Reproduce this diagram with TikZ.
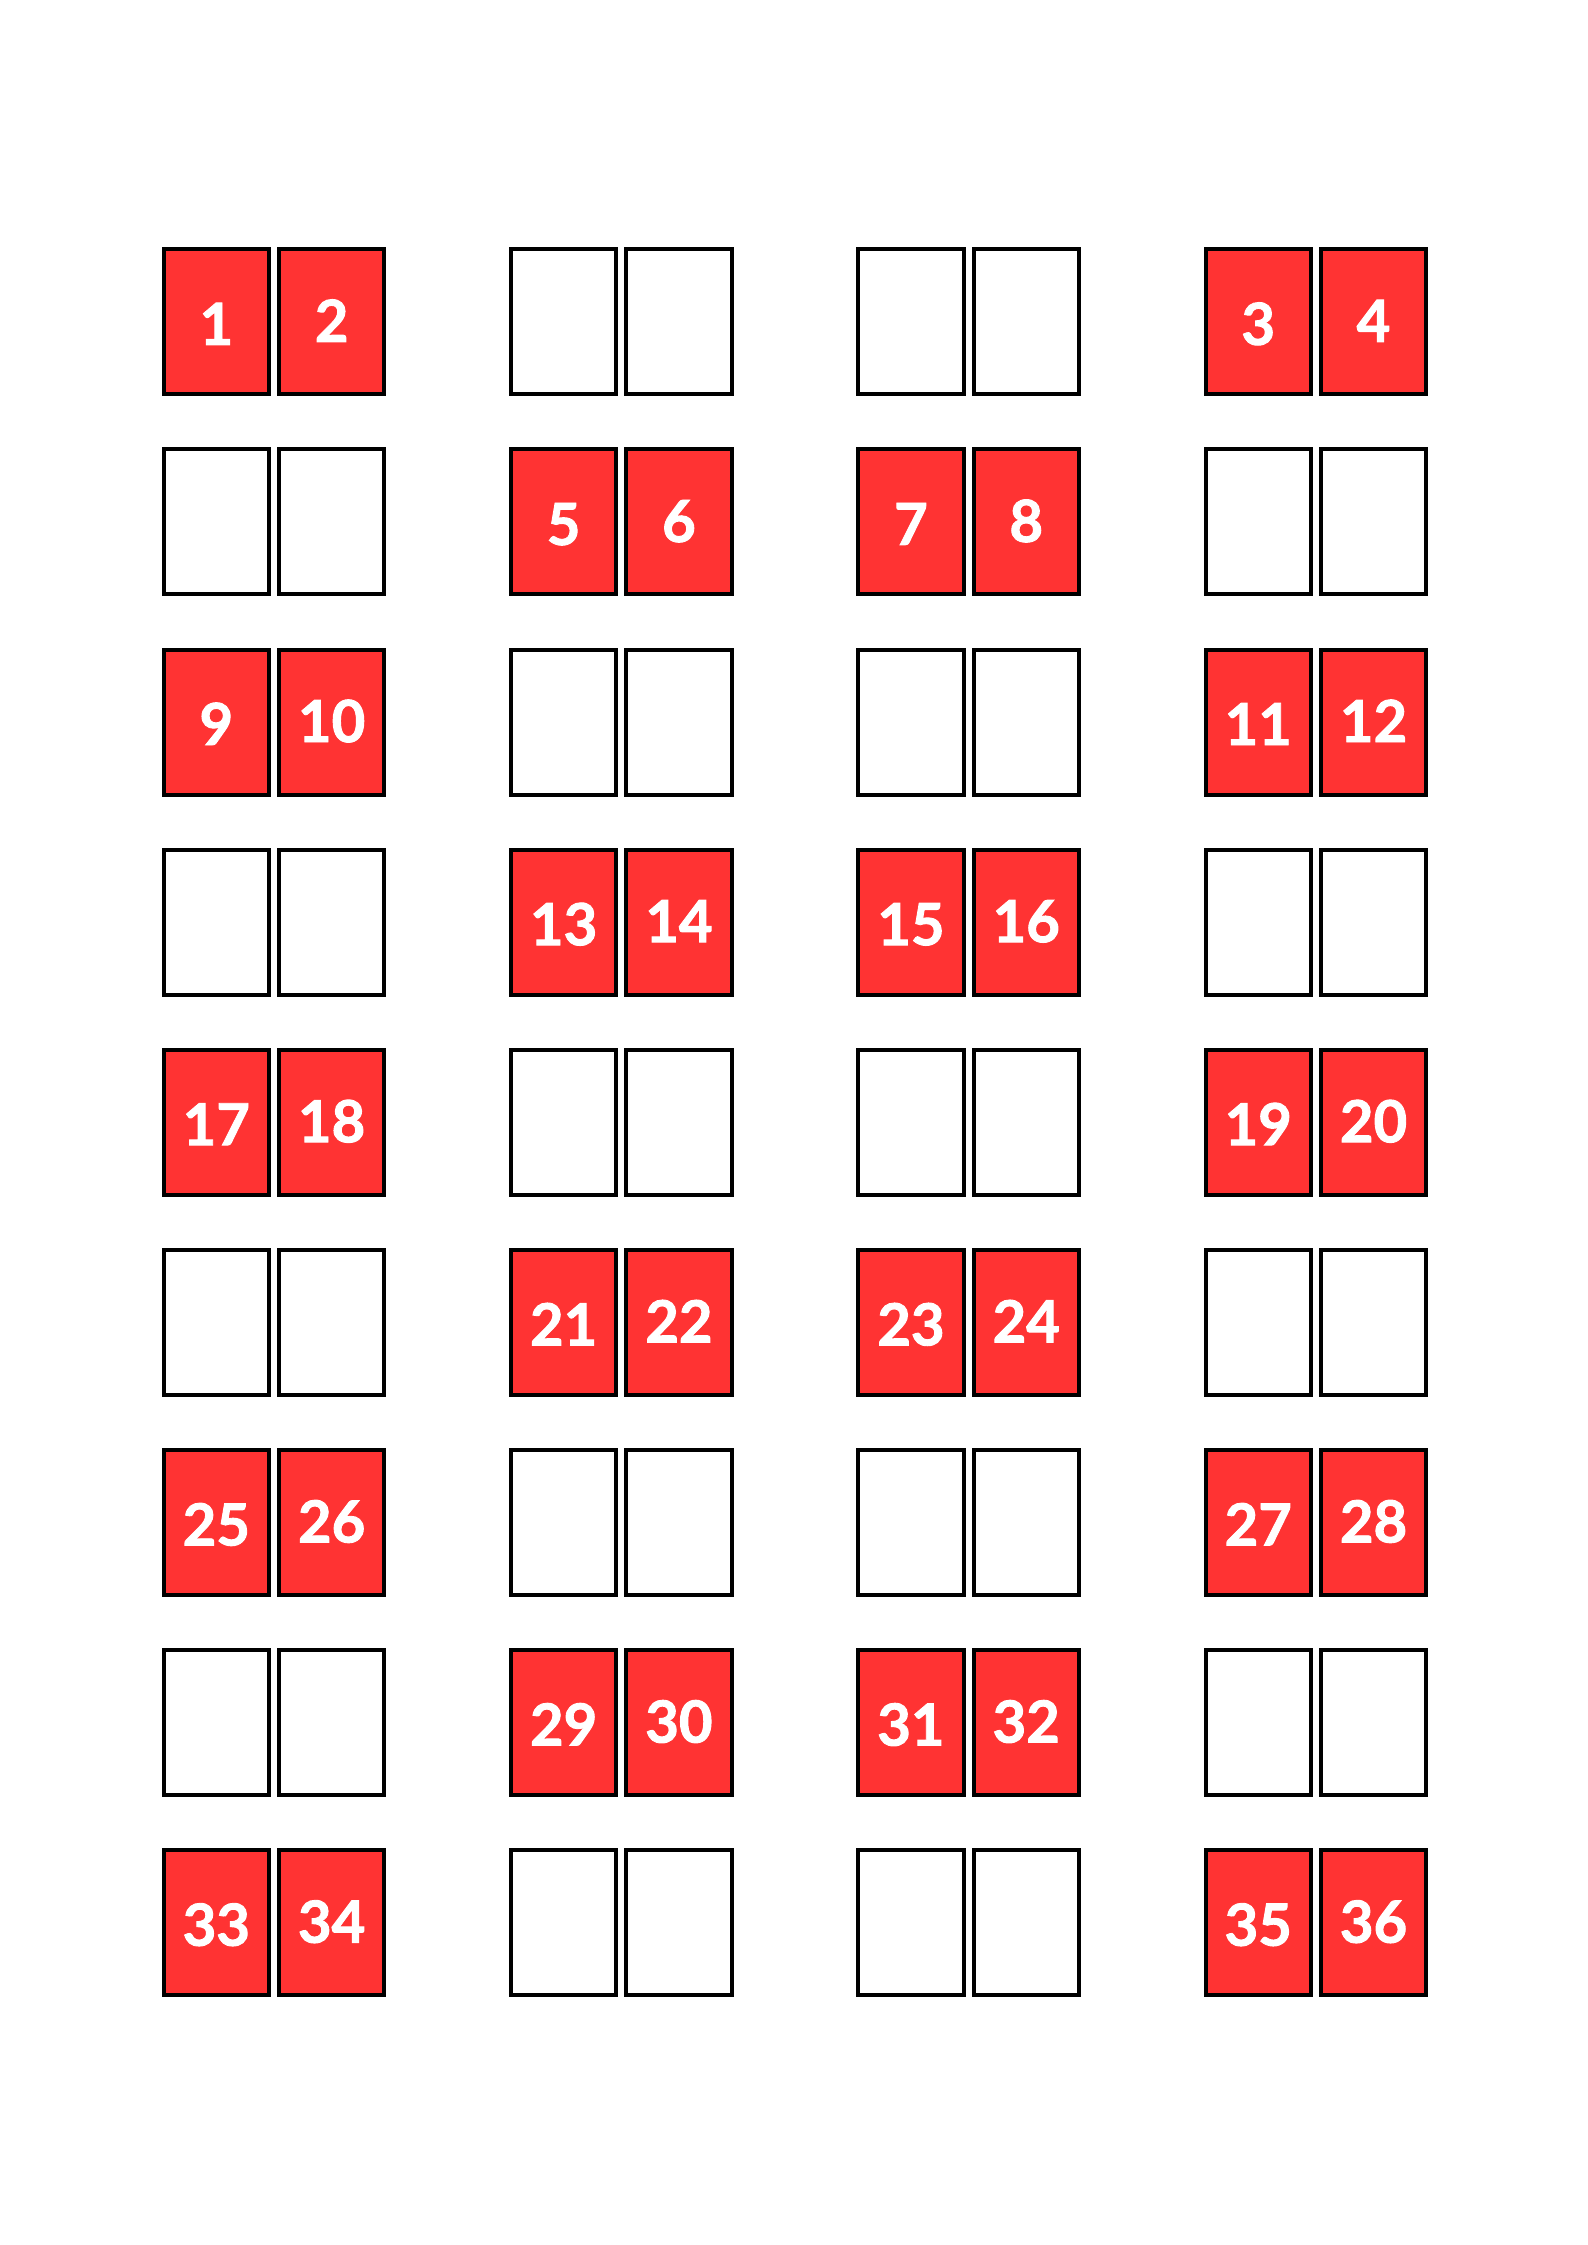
\documentclass[tikz,border=0pt]{standalone}
\usepackage{fontspec}
\setmainfont{Lato}[BoldFeatures={FakeBold=1.6}]
\definecolor{boxred}{HTML}{FF3333}
\tikzset{
  pagebox/.style={x=1pt,y=-1pt},
  cell/.style={draw=black,line width=4pt,minimum width=105.3pt,minimum height=145pt,inner sep=0pt,
    text height=42pt,text depth=0pt,font=\fontsize{58}{70}\selectfont\bfseries,text=white},
  redcell/.style={cell,fill=boxred},
  whitecell/.style={cell,fill=white}
}
\begin{document}
\begin{tikzpicture}[pagebox]
\useasboundingbox (0,0) rectangle (1587,2245);
\fill[white] (0,0) rectangle (1587,2245);
\foreach \r in {0,...,8} {
  \foreach \c in {0,...,3} {
    \pgfmathtruncatemacro\isred{ifthenelse(mod(\r,2)==0,(\c==0)||(\c==3),(\c==1)||(\c==2))}
    \pgfmathtruncatemacro\kk{ifthenelse(\c>=2,1,0)}
    \pgfmathtruncatemacro\na{4*\r+2*\kk+1}
    \pgfmathtruncatemacro\nb{4*\r+2*\kk+2}
    \pgfmathsetmacro\cxa{216.35+347.3*\c}
    \pgfmathsetmacro\cxb{331.65+347.3*\c}
    \pgfmathsetmacro\cy{321.8+200.1*\r}
    \ifnum\isred=1
      \node[redcell] (L-\r-\c) at (\cxa,\cy) {\raisebox{-2pt}{\na}};
      \node[redcell] (R-\r-\c) at (\cxb,\cy) {\raisebox{1pt}{\nb}};
    \else
      \node[whitecell] (L-\r-\c) at (\cxa,\cy) {};
      \node[whitecell] (R-\r-\c) at (\cxb,\cy) {};
    \fi
  }
}
\end{tikzpicture}
\end{document}
